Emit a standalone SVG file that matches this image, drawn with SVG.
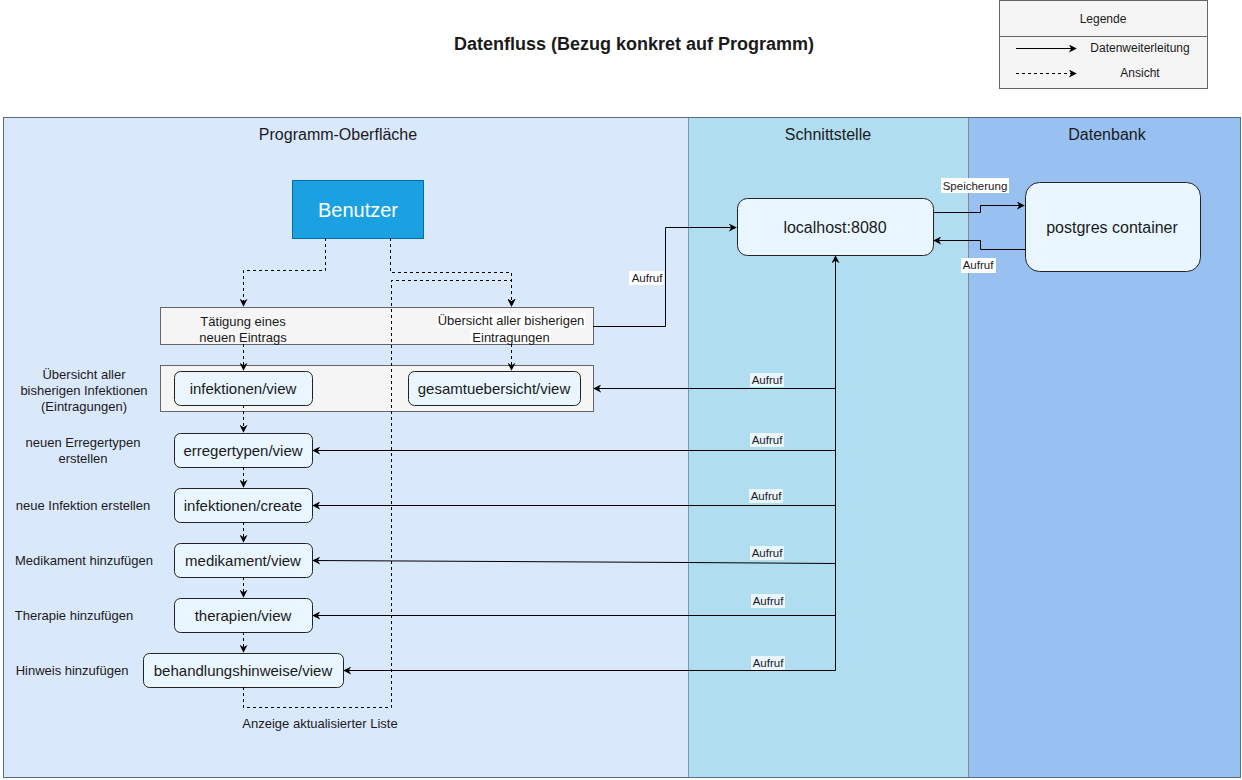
<svg xmlns="http://www.w3.org/2000/svg" width="1242" height="780" viewBox="0 0 1242 780">
<style>
text{font-family:"Liberation Sans",Arial,sans-serif;fill:#1a1a1a}
.t12{font-size:13px}
.t11{font-size:12px}
.lane{font-size:16px;text-anchor:middle}
.node rect{fill:#e9f6ff;stroke:#222;stroke-width:1}
.node text{font-size:15px;text-anchor:middle}
.solid{fill:none;stroke:#000;stroke-width:1}
.dash{fill:none;stroke:#000;stroke-width:1;stroke-dasharray:3,3}
.lbl{font-size:11.5px;text-anchor:middle}
.lblbg{fill:#fff}
</style>
<defs>
<marker id="ah" viewBox="0 0 10 10" refX="9" refY="5" markerWidth="8" markerHeight="8" orient="auto" markerUnits="userSpaceOnUse">
<path d="M0,0 L10,5 L0,10 L3,5 Z" fill="#000"/>
</marker>
</defs>
<rect width="1242" height="780" fill="#fff"/>

<g id="title"><text x="634" y="50" text-anchor="middle" style="font-size:18px;font-weight:bold">Datenfluss (Bezug konkret auf Programm)</text></g>

<g id="legend">
<rect x="999.5" y="0.5" width="208" height="88" fill="#f5f5f5" stroke="#666"/>
<line x1="999.5" y1="36.5" x2="1207.5" y2="36.5" stroke="#666"/>
<text x="1103" y="23" text-anchor="middle" class="t11">Legende</text>
<line x1="1016" y1="48.5" x2="1076" y2="48.5" class="solid" marker-end="url(#ah)"/>
<text x="1140" y="52" text-anchor="middle" class="t11">Datenweiterleitung</text>
<line x1="1016" y1="73.5" x2="1076" y2="73.5" class="dash" marker-end="url(#ah)"/>
<text x="1140" y="77" text-anchor="middle" class="t11">Ansicht</text>
</g>

<g id="lanes">
<rect x="3.5" y="117.5" width="685" height="660" fill="#dae8fc" stroke="#6c7a90"/>
<rect x="688.5" y="117.5" width="280" height="660" fill="#b1ddf0" stroke="#7a98b0"/>
<rect x="968.5" y="117.5" width="272" height="660" fill="#98c1f2" stroke="#7a8aa0"/>
<rect x="3.5" y="117.5" width="1237" height="660" fill="none" stroke="#5a6a80"/>
<text x="338" y="140" class="lane">Programm-Oberfläche</text>
<text x="828" y="140" class="lane">Schnittstelle</text>
<text x="1107" y="140" class="lane">Datenbank</text>
</g>

<g id="benutzer">
<rect x="292.5" y="180.5" width="131" height="58" fill="#1ba1e2" stroke="#006eaf"/>
<text x="358" y="217" text-anchor="middle" style="font-size:20px;fill:#fff">Benutzer</text>
</g>

<g id="group1">
<rect x="160.5" y="307.5" width="433" height="37" fill="#f5f5f5" stroke="#666"/>
<text x="243" y="326" text-anchor="middle" class="t12">Tätigung eines</text>
<text x="243" y="342" text-anchor="middle" class="t12">neuen Eintrags</text>
</g>

<g id="group2">
<rect x="160.5" y="365.5" width="433" height="46" fill="#f5f5f5" stroke="#666"/>
</g>

<g id="n-infview" class="node"><rect x="174.5" y="371.5" width="138" height="34" rx="6"/><text x="243" y="394">infektionen/view</text></g>
<g id="n-gesamt" class="node"><rect x="408.5" y="371.5" width="172" height="34" rx="6"/><text x="494" y="394">gesamtuebersicht/view</text></g>
<g id="n-erreger" class="node"><rect x="174.5" y="433.5" width="138" height="34" rx="6"/><text x="243" y="456">erregertypen/view</text></g>
<g id="n-infcreate" class="node"><rect x="174.5" y="488.5" width="138" height="34" rx="6"/><text x="243" y="511">infektionen/create</text></g>
<g id="n-medik" class="node"><rect x="174.5" y="543.5" width="138" height="34" rx="6"/><text x="243" y="566">medikament/view</text></g>
<g id="n-therap" class="node"><rect x="174.5" y="598.5" width="138" height="34" rx="6"/><text x="243" y="621">therapien/view</text></g>
<g id="n-behand" class="node"><rect x="143.5" y="653.5" width="200" height="34" rx="6"/><text x="243" y="676">behandlungshinweise/view</text></g>

<g id="n-localhost" class="node"><rect x="737.5" y="198.5" width="196" height="57" rx="10" stroke="#6c8ebf"/><text x="835" y="233" style="font-size:16px">localhost:8080</text></g>
<g id="n-postgres" class="node"><rect x="1025.5" y="182.5" width="175" height="89" rx="14" stroke="#6c8ebf"/><text x="1112" y="233" style="font-size:16px">postgres container</text></g>

<g id="sidelabels" class="t12">
<text x="84" y="379" text-anchor="middle">Übersicht aller</text>
<text x="84" y="395" text-anchor="middle">bisherigen Infektionen</text>
<text x="84" y="411" text-anchor="middle">(Eintragungen)</text>
<text x="83" y="447" text-anchor="middle">neuen Erregertypen</text>
<text x="83" y="463" text-anchor="middle">erstellen</text>
<text x="83" y="510" text-anchor="middle">neue Infektion erstellen</text>
<text x="84" y="565" text-anchor="middle">Medikament hinzufügen</text>
<text x="74" y="620" text-anchor="middle">Therapie hinzufügen</text>
<text x="72" y="675" text-anchor="middle">Hinweis hinzufügen</text>
</g>

<g id="connectors">
<path class="dash" d="M325.5,238 V270.5 H243.5 V306" marker-end="url(#ah)"/>
<path class="dash" d="M390.5,238 V272.5 H511.5 V306" marker-end="url(#ah)"/>
<path class="dash" d="M243.5,687 V707.5 H391.5 V280.5 H511.5 V306" marker-end="url(#ah)"/>
<path class="dash" d="M243.5,344 V370" marker-end="url(#ah)"/>
<path class="dash" d="M511.5,344 V370" marker-end="url(#ah)"/>
<path class="dash" d="M243.5,405 V432" marker-end="url(#ah)"/>
<path class="dash" d="M243.5,467 V487" marker-end="url(#ah)"/>
<path class="dash" d="M243.5,522 V542" marker-end="url(#ah)"/>
<path class="dash" d="M243.5,577 V597" marker-end="url(#ah)"/>
<path class="dash" d="M243.5,632 V652" marker-end="url(#ah)"/>

<rect x="437" y="313" width="148" height="15" class="lblbg"/>
<rect x="470" y="330" width="81" height="14" class="lblbg"/>
<text x="511" y="325" class="lbl" style="font-size:13px">Übersicht aller bisherigen</text>
<text x="511" y="342" class="lbl" style="font-size:13px">Eintragungen</text>

<path class="solid" d="M593,326.5 H665.5 V227.5 H736" marker-end="url(#ah)"/>
<rect x="629" y="271" width="35" height="14" class="lblbg"/>
<text x="647" y="282" class="lbl">Aufruf</text>

<path class="solid" d="M933,212.5 H980.5 V205.5 H1024" marker-end="url(#ah)"/>
<rect x="941" y="178" width="68" height="15" class="lblbg"/>
<text x="975" y="190" class="lbl">Speicherung</text>
<path class="solid" d="M1025,249.5 H980.5 V240.5 H934" marker-end="url(#ah)"/>
<rect x="961" y="258" width="35" height="15" class="lblbg"/>
<text x="978" y="269" class="lbl">Aufruf</text>

<path class="solid" d="M835.5,670.5 V256" marker-end="url(#ah)"/>
<path class="solid" d="M835.5,388.5 H594" marker-end="url(#ah)"/>
<path class="solid" d="M835.5,450.5 H313" marker-end="url(#ah)"/>
<path class="solid" d="M835.5,505.5 H313" marker-end="url(#ah)"/>
<path class="solid" d="M835.5,563.5 L688,562.5 L313,560.5" marker-end="url(#ah)"/>
<path class="solid" d="M835.5,615.5 H313" marker-end="url(#ah)"/>
<path class="solid" d="M835.5,670.5 H344" marker-end="url(#ah)"/>

<g class="lbl">
<rect x="750" y="373" width="34" height="14" fill="#e9f6ff"/><text x="767" y="384">Aufruf</text>
<rect x="750" y="433" width="34" height="14" fill="#e9f6ff"/><text x="767" y="444">Aufruf</text>
<rect x="749" y="489" width="34" height="14" fill="#e9f6ff"/><text x="766" y="500">Aufruf</text>
<rect x="750" y="546" width="34" height="14" fill="#e9f6ff"/><text x="767" y="557">Aufruf</text>
<rect x="751" y="594" width="34" height="14" fill="#e9f6ff"/><text x="768" y="605">Aufruf</text>
<rect x="751" y="656" width="34" height="14" fill="#e9f6ff"/><text x="768" y="667">Aufruf</text>
</g>

<text x="320" y="728" class="lbl" style="font-size:13px">Anzeige aktualisierter Liste</text>
</g>
</svg>
